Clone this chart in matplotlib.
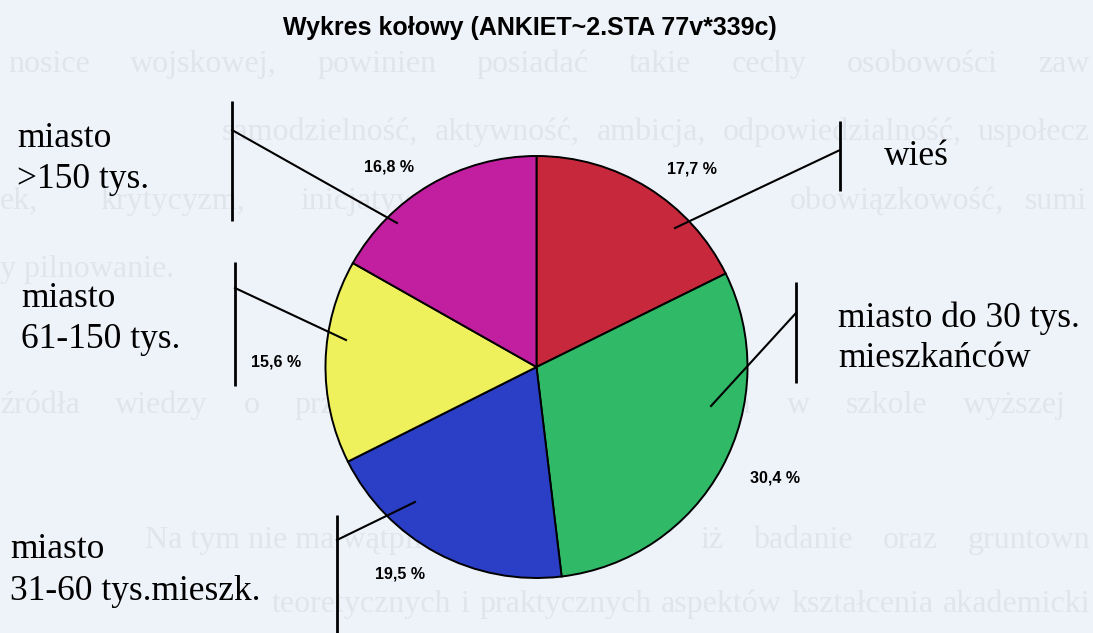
import matplotlib.pyplot as plt

# data
categories = ['wieś', 'miasto do 30 tys. mieszkańców', 'miasto 31-60 tys.mieszk.',
              'miasto 61-150 tys.', 'miasto >150 tys.']
shares = [17.7, 30.4, 19.5, 15.6, 16.8]
label_lines = [['wieś'], ['miasto do 30 tys.', 'mieszkańców'], ['miasto', '31-60 tys.mieszk.'],
               ['miasto', '61-150 tys.'], ['miasto', '>150 tys.']]
colors = ['#c8283c', '#30ba68', '#2a3ec6', '#eef05c', '#c21ea0']
title = 'Wykres kołowy (ANKIET~2.STA 77v*339c)'

# faint show-through text of the scanned page: (baseline, x from, x to, text)
# x to = None -> written as is, otherwise words justified between the two
back_lines = [
    (72, 8, 1090, 'nosice wojskowej, powinien posiadać takie cechy osobowości zaw'),
    (140, 222, 1090, 'samodzielność, aktywność, ambicja, odpowiedzialność, uspołecz'),
    (277, 0, None, 'y pilnowanie.'),
    (413, 0, 1066, 'źródła wiedzy o przedmiotach nauczania ocenia w szkole wyższej'),
    (548, 145, None, 'Na tym nie ma wątpliwości,'),
    (548, 700, 1090, 'iż badanie oraz gruntown'),
    (612, 272, 1090, 'teoretycznych i praktycznych aspektów kształcenia akademicki'),
]
back_words = [(209, 0, 'ek,'), (209, 100, 'krytycyzm,'), (209, 300, 'inicjatywa,'),
              (209, 790, 'obowiązkowość,'), (209, 1025, 'sumi')]

# layout in pixels (y measured from top)
W, H = 1093, 633
center = (536.5, 367)
radius = 211
text_pos = [(884, [165]), (838, [327, 367]), (10, [558, 600]), (21, [307, 348]), (17, [147, 188])]
pct_pos = [(692, 169), (775, 478), (400, 574), (276, 362), (389, 167)]
leader_in = [(675, 228), (711, 406), (415, 502), (346, 340), (397, 223)]
bars = [(840, 121, 191, 150), (796, 282, 383, 313), (337, 515, 640, 540),
        (235, 262, 386, 288), (232, 101, 221, 130)]

bg = '#eef2f9'
faint = '#e0e4eb'
faint_size = 23

fig = plt.figure(figsize=(W / 100, H / 100), dpi=100)
fig.patch.set_facecolor(bg)
ax = fig.add_axes([0, 0, 1, 1])
ax.set_facecolor(bg)
ax.set_xlim(0, W)
ax.set_ylim(0, H)
renderer = fig.canvas.get_renderer()


def faint_text(x, yb, s):
    return ax.text(x, H - yb, s, fontsize=faint_size, family='Liberation Serif', color=faint,
                   ha='left', va='baseline', zorder=0)


for yb, x0, x1, s in back_lines:
    if x1 is None:
        faint_text(x0, yb, s)
        continue
    words = [faint_text(0, yb, w) for w in s.split()]
    widths = [t.get_window_extent(renderer).width for t in words]
    gap = (x1 - x0 - sum(widths)) / (len(words) - 1)
    x = x0
    for t, w in zip(words, widths):
        t.set_x(x)
        x += w + gap

for yb, x, s in back_words:
    faint_text(x, yb, s)

ax.pie(shares, colors=colors, startangle=90, counterclock=False,
       center=(center[0], H - center[1]), radius=radius,
       wedgeprops=dict(edgecolor='black', linewidth=1.4, zorder=2))

ax.text(530, H - 28, title, fontsize=18, family='Liberation Sans', weight='bold',
        ha='center', va='center')

for i, share in enumerate(shares):
    px, py = pct_pos[i]
    ax.text(px, H - py, '{0:.1f} %'.format(share).replace('.', ','), fontsize=11.5,
            family='Liberation Sans', weight='bold', ha='center', va='center', zorder=4)

    x, baselines = text_pos[i]
    for line, yb in zip(label_lines[i], baselines):
        ax.text(x, H - yb, line, fontsize=25.5, family='Liberation Serif',
                ha='left', va='baseline', zorder=4)

    bx, y0, y1, yj = bars[i]
    ax.plot([bx, bx], [H - y0, H - y1], color='black', lw=2, zorder=4, solid_capstyle='butt')
    lx, ly = leader_in[i]
    ax.plot([lx, bx], [H - ly, H - yj], color='black', lw=1.5, zorder=4)

ax.set_xlim(0, W)
ax.set_ylim(0, H)
ax.set_aspect('auto')
ax.axis('off')

fig.savefig('out.png', dpi=100, facecolor=fig.get_facecolor())
